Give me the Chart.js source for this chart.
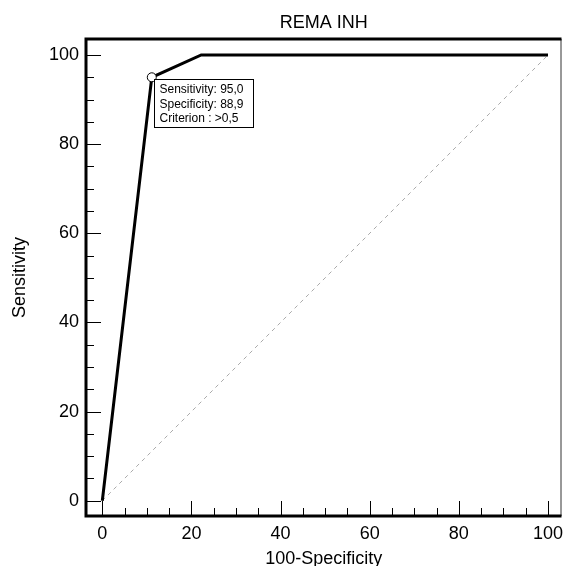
<!DOCTYPE html>
<html><head><meta charset="utf-8">
<script src="https://cdn.jsdelivr.net/npm/chart.js@4/dist/chart.umd.min.js"></script>
<style>html,body{margin:0;padding:0;background:#fff}#wrap{width:563px;height:566px}</style>
</head><body><div id="wrap"><canvas id="c" width="563" height="566"></canvas></div>
<script>
const rocX = [0, 11.1, 22.2, 100];
const rocY = [0, 95, 100, 100];
const optX = [11.1];
const optY = [95];
const refX = [0, 100];
const refY = [0, 100];
const tickValues = [0, 20, 40, 60, 80, 100];
const minorStep = 5;
const titleText = 'REMA INH';
const xTitle = '100-Specificity';
const yTitle = 'Sensitivity';
const infoLines = ['Sensitivity: 95,0', 'Specificity: 88,9', 'Criterion : >0,5'];

const FONT = 'Liberation Sans, Arial, sans-serif';

const framePlugin = {
  id: 'frame',
  afterDatasetsDraw(chart) {
    const {ctx, chartArea: a, scales: {x, y}} = chart;
    ctx.save();
    ctx.strokeStyle = '#000';
    ctx.lineWidth = 1;
    for (let v = 0; v <= 100; v += minorStep) {
      const major = v % 20 === 0;
      const len = major ? 15 : 8;
      const px = Math.round(x.getPixelForValue(v)) + 0.5;
      ctx.beginPath(); ctx.moveTo(px, a.bottom); ctx.lineTo(px, a.bottom - len); ctx.stroke();
      const py = Math.round(y.getPixelForValue(v)) + 0.5;
      ctx.beginPath(); ctx.moveTo(a.left, py); ctx.lineTo(a.left + len, py); ctx.stroke();
    }
    ctx.strokeStyle = '#333';
    ctx.lineWidth = 1;
    ctx.beginPath(); ctx.moveTo(a.right - 0.5, a.top); ctx.lineTo(a.right - 0.5, a.bottom); ctx.stroke();
    ctx.strokeStyle = '#000';
    ctx.lineWidth = 3;
    ctx.beginPath();
    ctx.moveTo(a.right, a.top); ctx.lineTo(a.left, a.top); ctx.lineTo(a.left, a.bottom); ctx.lineTo(a.right, a.bottom);
    ctx.stroke();
    // info box near the optimal point
    const px = x.getPixelForValue(optX[0]);
    const py = y.getPixelForValue(optY[0]);
    const bx = Math.round(px) + 2.5, by = Math.round(py) + 2.5, bw = 99, bh = 48;
    ctx.fillStyle = '#fff';
    ctx.fillRect(bx, by, bw, bh);
    ctx.lineWidth = 1;
    ctx.strokeStyle = '#000';
    ctx.strokeRect(bx, by, bw, bh);
    ctx.fillStyle = '#000';
    ctx.font = '12px ' + FONT;
    ctx.textBaseline = 'middle';
    ctx.textAlign = 'left';
    infoLines.forEach((t, i) => ctx.fillText(t, bx + 5, by + 10.5 + i * 14.5));
    ctx.restore();
  }
};

new Chart(document.getElementById('c'), {
  type: 'scatter',
  data: {
    datasets: [
      {
        data: refX.map((v, i) => ({x: v, y: refY[i]})),
        showLine: true, borderColor: '#aaa', borderWidth: 1, borderDash: [4, 4],
        pointRadius: 0, fill: false, order: 3
      },
      {
        data: rocX.map((v, i) => ({x: v, y: rocY[i]})),
        showLine: true, borderColor: '#000', borderWidth: 3, pointRadius: 0,
        fill: false, tension: 0, order: 2
      },
      {
        data: optX.map((v, i) => ({x: v, y: optY[i]})),
        showLine: false, pointRadius: 4.5, pointBackgroundColor: '#fff',
        pointBorderColor: '#000', pointBorderWidth: 1, order: 1
      }
    ]
  },
  options: {
    responsive: false,
    animation: false,
    layout: {autoPadding: false, padding: {top: 0, right: 1.5, left: 0, bottom: 0}},
    plugins: {
      legend: {display: false},
      tooltip: {enabled: false},
      title: {
        display: true, text: titleText, fullSize: false, color: '#000',
        font: {family: FONT, size: 18, weight: 'normal'},
        padding: {top: 12, bottom: 5.4}
      }
    },
    scales: {
      x: {
        type: 'linear', min: -3.66, max: 103.03,
        afterBuildTicks: s => { s.ticks = tickValues.map(v => ({value: v})); },
        grid: {display: false, drawTicks: false},
        border: {display: false},
        ticks: {color: '#000', font: {family: FONT, size: 18}, padding: 7, maxRotation: 0},
        title: {display: true, text: xTitle, color: '#000', font: {family: FONT, size: 18}, padding: {top: 4, bottom: -4}},
        afterFit: s => { s.height = 50; s.paddingLeft = 0; s.paddingRight = 0; }
      },
      y: {
        type: 'linear', min: -3.43, max: 103.59,
        afterBuildTicks: s => { s.ticks = tickValues.map(v => ({value: v})); },
        grid: {display: false, drawTicks: false},
        border: {display: false},
        ticks: {color: '#000', font: {family: FONT, size: 18}, padding: 7},
        title: {display: true, text: yTitle, color: '#000', font: {family: FONT, size: 18}, padding: {top: 9, bottom: 0}},
        afterFit: s => { s.width = 86; s.paddingTop = 0; s.paddingBottom = 0; }
      }
    }
  },
  plugins: [framePlugin]
});
</script></body></html>
